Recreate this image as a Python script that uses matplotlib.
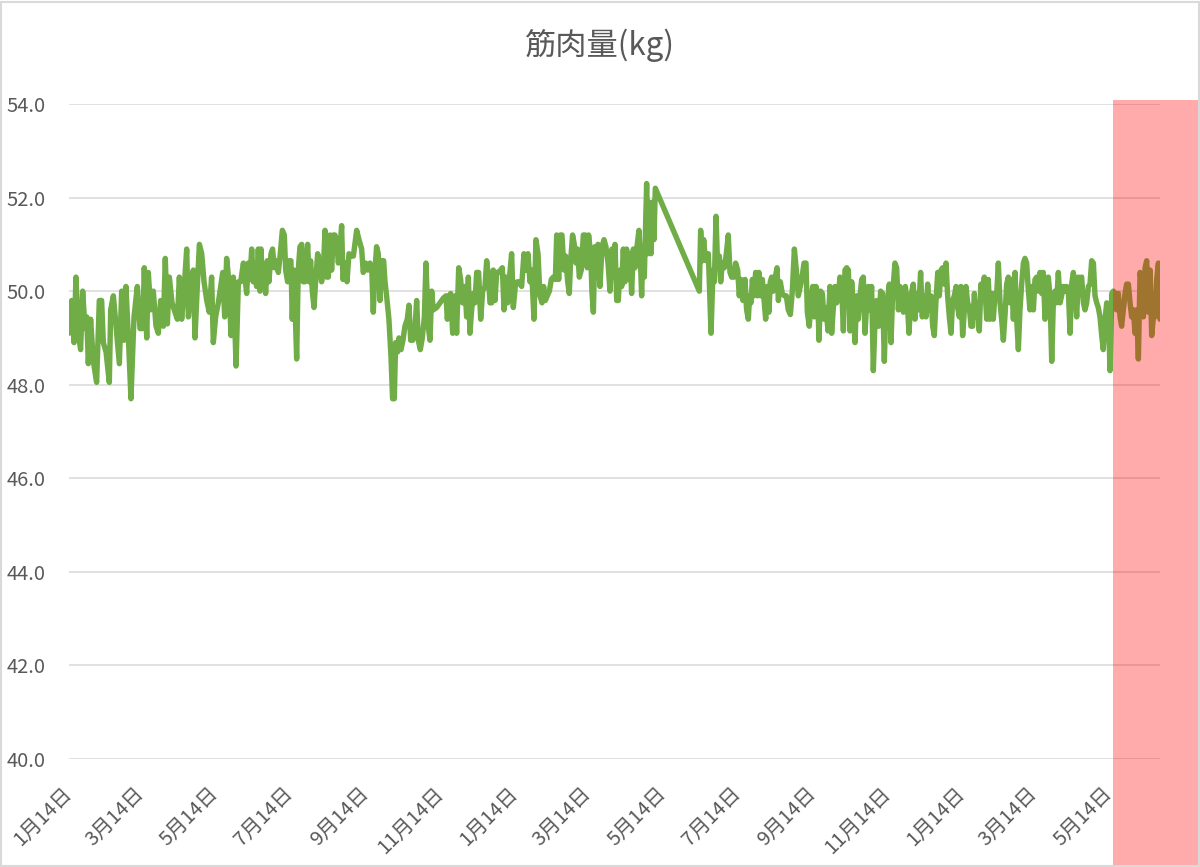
import matplotlib
matplotlib.use("Agg")
import matplotlib.pyplot as plt
import matplotlib.dates as mdates
from matplotlib.patches import Rectangle
from matplotlib.ticker import FuncFormatter
import pandas as pd

plt.rcParams['font.family'] = ['Noto Sans CJK JP', 'DejaVu Sans']

title = "筋肉量(kg)"
start_date = "2019-01-14"

# day offsets from start_date and muscle mass (kg)
day_offset = [
    0.0, 2.2, 4.1, 5.7, 7.6, 9.5, 11.2, 13.1, 14.5, 15.8, 17.7, 19.9, 22.6, 24.8, 26.7, 28.1,
    30.3, 33.0, 34.1, 36.3, 38.5, 41.2, 43.1, 45.0, 46.6, 48.6, 50.7, 53.2, 55.9, 58.1, 60.3,
    61.6, 63.6, 64.9, 66.8, 69.0, 71.2, 73.1, 75.0, 77.2, 78.8, 80.5, 82.1, 84.3, 86.7, 88.7,
    90.3, 92.2, 94.1, 96.3, 97.7, 99.6, 101.7, 103.1, 105.0, 106.7, 108.6, 110.5, 112.7, 114.8,
    116.7, 118.1, 120.0, 122.2, 124.1, 125.8, 127.4, 129.0, 130.7, 132.6, 134.5, 136.7, 138.6,
    140.5, 142.7,
    145.4, 146.7, 148.1, 149.5, 150.8, 152.2, 153.5, 154.9, 156.3, 157.1, 158.5, 159.8, 160.9,
    162.3, 163.6, 165.3, 166.6, 168.0, 169.9, 171.3, 172.9, 174.6, 176.2, 177.3, 178.9, 180.0,
    181.6, 182.7, 184.1, 186.3, 187.6, 189.0, 190.4, 191.7, 193.1, 195.3, 196.6, 197.7, 199.1,
    200.5, 201.8, 203.5, 205.1, 206.7, 208.1, 209.5, 210.8, 212.2, 213.6, 214.9, 216.3, 217.6,
    219.0, 220.4, 221.7, 223.1, 224.2, 225.8, 227.5, 229.1, 230.7, 232.7, 235.4, 237.3, 239.5,
    240.8, 242.7, 244.4, 246.3, 247.7, 249.0, 250.4, 251.7, 253.1, 254.5, 255.8, 257.5, 258.6,
    259.9, 261.8, 263.5, 264.8, 266.2, 267.3, 268.9, 270.0, 271.7, 273.3, 274.9, 276.8, 278.2,
    279.6, 281.2, 283.1, 284.5, 285.8, 287.5, 289.1, 290.8, 292.1, 294.0,
    295.4, 296.8, 298.1, 300.9, 303.6, 306.3, 308.5, 309.6, 311.2, 312.3, 314.0, 315.9, 317.2,
    318.9, 320.5, 322.1, 324.0, 325.4, 326.8, 328.1, 329.5, 330.9, 332.2, 333.6, 335.2, 336.9,
    338.5, 340.4, 341.8, 343.4, 344.5, 345.9, 347.2, 348.6, 350.0, 351.6, 353.2, 354.6, 356.0,
    357.6, 359.0, 360.3, 362.2, 363.6, 365.2, 366.9, 368.5, 370.4, 372.3, 374.0, 375.6, 377.2,
    378.6, 380.5, 382.1, 383.8, 385.4, 387.1, 388.4, 389.8, 391.4, 393.1, 394.7, 396.3, 398.0,
    399.1, 400.7, 402.1, 403.4, 405.1, 406.4, 408.1, 409.4, 410.5, 412.1, 413.5, 414.9, 416.2,
    417.6, 419.2, 420.9, 422.5, 424.1, 425.2, 426.9, 428.0, 429.1, 430.4, 431.8, 432.9, 434.5,
    436.2, 437.8, 439.4, 441.1, 442.7, 444.3, 446.0,
    446.8, 448.2, 449.5, 450.9, 452.3, 453.6, 455.0, 456.3, 457.7, 459.1, 460.4, 461.8, 463.2,
    464.8, 466.4, 467.5, 468.6, 469.7, 470.8, 472.7, 473.8, 474.9, 476.3, 477.4, 478.7, 479.8,
    515.8, 516.9, 518.3, 519.4, 520.5, 521.5, 523.2, 525.4, 527.0, 528.1, 529.5, 530.8, 532.2,
    533.3, 534.6, 536.3, 537.9, 539.5, 540.9, 542.3, 544.2, 545.5, 547.2, 548.5, 549.9, 551.5,
    553.2, 554.5, 555.9, 557.0, 558.1, 559.2, 560.5, 561.9, 563.3, 564.6, 566.0, 567.4, 569.0,
    570.1, 571.5, 572.8, 573.9, 575.0, 576.4, 577.7, 579.4, 580.5, 582.1, 583.7, 585.4, 587.0,
    588.6, 590.3, 591.9, 593.6, 595.2, 596.8,
    599.6, 601.5, 603.1, 604.2, 605.8, 607.2, 608.6, 609.9, 611.3, 612.7, 613.7, 615.1, 616.5,
    617.8, 619.5, 621.1, 622.7, 624.1, 625.5, 626.8, 628.2, 629.6, 630.9, 632.3, 633.7, 635.0,
    636.4, 637.8, 639.1, 640.5, 641.8, 643.2, 644.6, 645.9, 647.3, 648.7, 650.0, 651.4, 652.8,
    654.1, 655.5, 656.8, 658.2, 659.8, 660.9, 662.6, 664.2, 665.8, 667.2, 668.6, 669.9, 671.3,
    672.7, 674.0, 675.9, 677.3, 678.7, 680.0, 681.4, 682.8, 684.4, 686.0, 687.4, 689.0, 690.9,
    692.3, 693.7, 695.3, 696.9, 698.3, 699.7, 701.3, 702.7, 704.0, 705.4, 706.8, 708.1, 709.5,
    710.9, 712.2, 713.6, 714.9, 716.3, 717.7, 719.0, 720.4, 721.8, 723.1, 724.5, 725.9, 727.2,
    728.6, 729.9, 731.3, 732.7, 734.0, 735.4, 736.8, 738.1, 739.5, 740.9, 742.2, 743.6, 744.9,
    746.3, 747.7, 749.0,
    751.0, 752.3, 753.7, 755.1, 756.4, 757.8, 759.1, 760.5, 761.9, 763.2, 764.6, 766.0, 767.3,
    768.7, 770.1, 771.4, 772.8, 774.2, 775.5, 776.9, 778.2, 779.6, 781.0, 782.3, 783.7, 785.1,
    786.4, 787.8, 789.2, 790.5, 791.9, 793.2, 794.6, 796.0, 797.3, 798.7, 800.1, 801.4, 802.8,
    804.2, 805.5, 806.9, 808.2, 809.6, 811.0, 812.3, 813.7, 815.1, 816.4, 817.8, 819.2, 820.5,
    821.9, 823.2, 824.6, 826.0, 827.3, 828.7, 830.1, 831.4, 832.8, 834.2, 835.5, 836.9, 838.3,
    839.6, 841.0, 842.3, 843.7, 845.1, 846.4, 847.8, 849.2, 850.5, 851.9, 853.3, 854.6, 856.0,
    857.3, 858.7, 860.1, 861.4, 862.8, 864.2, 865.5, 866.9, 868.3, 869.6, 871.0, 872.4, 873.7,
    875.1, 876.5, 877.8, 879.2, 880.6, 881.9, 883.3, 884.7, 886.0, 887.4, 888.7, 890.1, 891.5,
    892.8,
]

muscle = [
    49.1, 49.8, 48.9, 50.3, 49.1, 48.75, 50.0, 49.2, 49.45, 48.45, 49.4, 48.5, 48.05, 49.8, 49.8, 48.9,
    48.7, 48.05, 49.6, 49.9, 49.25, 48.45, 50.0, 48.95, 50.1, 49.0, 47.7, 49.45, 50.1, 49.2, 49.2,
    50.5, 49.0, 50.4, 49.6, 50.0, 49.25, 49.1, 49.8, 49.25, 50.7, 49.3, 50.3, 49.75, 49.55, 49.4,
    50.3, 49.4, 50.0, 50.9, 49.45, 50.0, 50.45, 49.0, 50.1, 51.0, 50.8, 50.2, 49.8, 49.55,
    50.3, 48.9, 49.45, 49.75, 50.1, 50.4, 49.45, 50.7, 50.25, 49.05, 50.3, 48.4, 50.2,
    50.2, 50.6,
    49.95, 50.6, 50.25, 50.9, 50.2, 50.6, 50.1, 50.9, 50.0, 50.9, 50.1, 50.45, 49.95,
    50.65, 50.2, 50.8, 50.9, 50.5, 50.65, 50.4, 50.8, 51.3, 51.2, 50.45, 50.2, 50.65,
    50.65, 49.4, 50.45, 48.55, 50.45, 50.95, 51.0, 50.2, 50.2, 51.0, 50.2, 50.65, 50.0,
    49.65, 50.2, 50.8, 50.6, 50.2, 50.45, 51.3, 50.3, 50.3, 51.2, 50.45, 51.2, 51.2,
    51.1, 50.6, 50.9, 51.4, 50.25, 50.6, 50.2, 50.8, 50.75, 50.75, 51.3, 51.1, 50.9,
    50.4, 50.6, 50.45, 50.6, 50.5, 49.55, 50.45, 50.95, 50.8, 49.8, 50.65, 50.65, 50.2,
    49.9, 49.4, 48.6, 47.7, 47.7, 48.9, 48.7, 49.0, 48.75, 48.95, 49.25, 49.4, 49.7,
    48.95, 48.95, 49.2, 49.8, 48.95, 48.75, 49.0, 49.45, 50.6, 49.25,
    48.95, 50.0, 49.6, 49.65, 49.75, 49.85, 49.9, 49.4, 49.9, 49.95, 49.1, 49.9, 49.1,
    50.5, 50.25, 49.75, 50.1, 49.45, 50.3, 49.1, 49.6, 49.95, 49.75, 50.4, 50.4, 49.4,
    50.0, 50.1, 50.65, 50.25, 49.75, 49.75, 50.45, 49.8, 50.4, 50.4, 50.45, 50.5, 49.6,
    50.3, 49.75, 50.25, 50.8, 49.65, 50.1, 50.2, 50.2, 50.1, 50.8, 50.45, 50.8, 50.2,
    50.45, 49.4, 51.1, 50.8, 49.9, 49.75, 50.1, 49.8, 49.9, 50.0, 50.25, 50.3, 50.25,
    51.2, 50.25, 51.2, 51.2, 50.45, 50.75, 50.2, 49.95, 50.65, 51.2, 51.0, 50.6, 50.9,
    50.3, 50.45, 51.2, 51.2, 50.5, 51.2, 50.8, 49.95, 49.55, 50.95, 50.45, 51.0, 50.1,
    50.95, 51.1, 50.95, 50.6, 50.0, 50.9, 50.3,
    51.0, 49.8, 49.8, 50.45, 50.1, 50.9, 50.2, 50.9, 50.25, 50.8, 49.95, 50.9, 50.5,
    50.95, 51.3, 50.75, 49.9, 50.9, 50.3, 52.3, 50.8, 51.9, 50.8, 51.9, 51.1, 52.2,
    50.0, 51.3, 50.65, 51.1, 50.75, 50.65, 50.8, 49.1, 50.45, 50.2, 51.6, 50.5, 50.75,
    50.2, 50.6, 50.5, 50.8, 51.2, 50.4, 50.3, 50.3, 50.6, 50.45, 49.9, 50.25, 49.8,
    50.25, 49.6, 49.4, 49.9, 49.75, 50.25, 49.9, 50.4, 49.9, 50.4, 49.9, 50.25, 49.75,
    49.4, 50.1, 49.55, 50.2, 50.3, 50.0, 50.25, 50.5, 49.8, 50.2, 49.95, 49.9, 49.9,
    49.6, 49.5, 50.0, 50.9, 50.45, 49.9,
    50.25, 50.6, 50.6, 49.55, 49.25, 49.8, 50.1, 49.45, 50.1, 49.9, 48.95, 50.0, 49.95,
    49.4, 49.65, 49.15, 50.1, 49.1, 49.65, 50.1, 49.75, 49.9, 50.3, 50.1, 49.15, 50.45,
    50.5, 50.45, 49.15, 50.2, 49.65, 48.9, 49.9, 49.4, 49.9, 50.25, 50.3, 49.1, 49.75,
    50.1, 49.6, 50.1, 48.3, 49.55, 49.8, 49.25, 50.0, 49.95, 48.5, 49.75, 49.8, 50.15,
    48.9, 49.95, 50.6, 50.5, 49.6, 50.1, 49.9, 49.55, 50.1, 49.75, 49.1, 49.9, 50.15,
    49.4, 49.95, 49.6, 50.4, 49.45, 49.9, 49.45, 50.15, 49.6, 49.9, 49.25, 49.05, 49.8,
    50.4, 49.9, 50.45, 50.5, 50.15, 50.6, 49.9, 49.45, 49.1, 49.8, 49.9, 50.1, 49.65,
    49.45, 50.1, 49.05, 49.6, 50.1, 49.75, 49.65, 49.25, 49.25, 49.95, 49.45, 49.75, 49.15,
    50.15, 49.9, 50.3,
    49.4, 50.25, 49.4, 49.95, 49.4, 49.95, 49.9, 50.6, 49.75, 49.4, 48.95, 49.5, 50.15,
    50.3, 49.75, 50.25, 49.4, 50.4, 49.4, 48.75, 49.6, 50.15, 50.6, 50.7, 50.6, 50.0,
    49.6, 50.1, 49.6, 50.25, 50.3, 50.0, 50.4, 49.95, 50.4, 49.4, 50.15, 50.3, 49.9,
    48.5, 49.75, 50.0, 49.75, 50.4, 49.75, 49.9, 50.1, 50.0, 50.1, 50.0, 49.1, 50.15,
    50.4, 50.1, 49.45, 50.3, 50.25, 50.3, 49.75, 49.6, 49.75, 50.1, 50.15, 50.65, 50.6,
    49.9, 49.75, 49.65, 49.45, 49.05, 48.75, 49.4, 49.75, 49.6, 48.3, 49.95, 50.0, 49.95,
    49.6, 49.95, 49.45, 49.25, 49.6, 49.95, 50.15, 50.15, 49.75, 49.45, 49.6, 49.1, 49.6,
    48.55, 50.4, 50.15, 49.45, 50.5, 50.65, 49.55, 50.45, 49.05, 49.45, 49.45, 50.25, 50.6,
    49.4,
]

y_ticks = [40.0, 42.0, 44.0, 46.0, 48.0, 50.0, 52.0, 54.0]
tick_months = [1, 3, 5, 7, 9, 11]
tick_day = 14

dates = pd.Timestamp(start_date) + pd.to_timedelta(day_offset, unit="D")

W, H = 1200, 867
fig = plt.figure(figsize=(W / 100, H / 100), dpi=100)
ax = fig.add_axes([69 / W, 1 - 759 / H, (1160 - 69) / W, (759 - 104) / H])

text_col = "#595959"
grid_col = "#D9D9D9"

ax.plot(dates, muscle, color="#70AD47", lw=3.9, solid_joinstyle="round",
        solid_capstyle="round", zorder=3)

ax.set_ylim(y_ticks[0], y_ticks[-1])
ax.set_yticks(y_ticks)
ax.yaxis.set_major_formatter(FuncFormatter(lambda v, p: f"{v:.1f}"))
ax.set_xlim(dates[0], dates[-1])
ax.xaxis.set_major_locator(mdates.MonthLocator(bymonth=tick_months, bymonthday=tick_day))
ax.xaxis.set_major_formatter(FuncFormatter(
    lambda v, p: f"{mdates.num2date(v).month}月{mdates.num2date(v).day}日"))

ax.grid(axis="y", color=grid_col, lw=1.1, zorder=0)
ax.grid(axis="x", visible=False)
for s in ax.spines.values():
    s.set_visible(False)
ax.tick_params(axis="both", length=0, colors=text_col, labelsize=14.5)
ax.tick_params(axis="y", pad=17)
ax.tick_params(axis="x", pad=23)
for lab in ax.get_xticklabels():
    lab.set_rotation(45)
    lab.set_ha("right")
    lab.set_va("center")
    lab.set_rotation_mode("anchor")

fig.text(599 / W, 1 - 45 / H, title, ha="center", va="center", fontsize=22.5, color=text_col)

# highlight band
fig.add_artist(Rectangle((1113 / W, 0), (W - 1113) / W, (867 - 100) / H,
                         transform=fig.transFigure, facecolor="red", alpha=0.33,
                         edgecolor="none", zorder=10))
# chart border
fig.add_artist(Rectangle((0.001, 0.001), 0.998, 0.997, transform=fig.transFigure,
                         facecolor="none", edgecolor=grid_col, lw=1.5, zorder=11))

fig.savefig("out.png", dpi=100)
